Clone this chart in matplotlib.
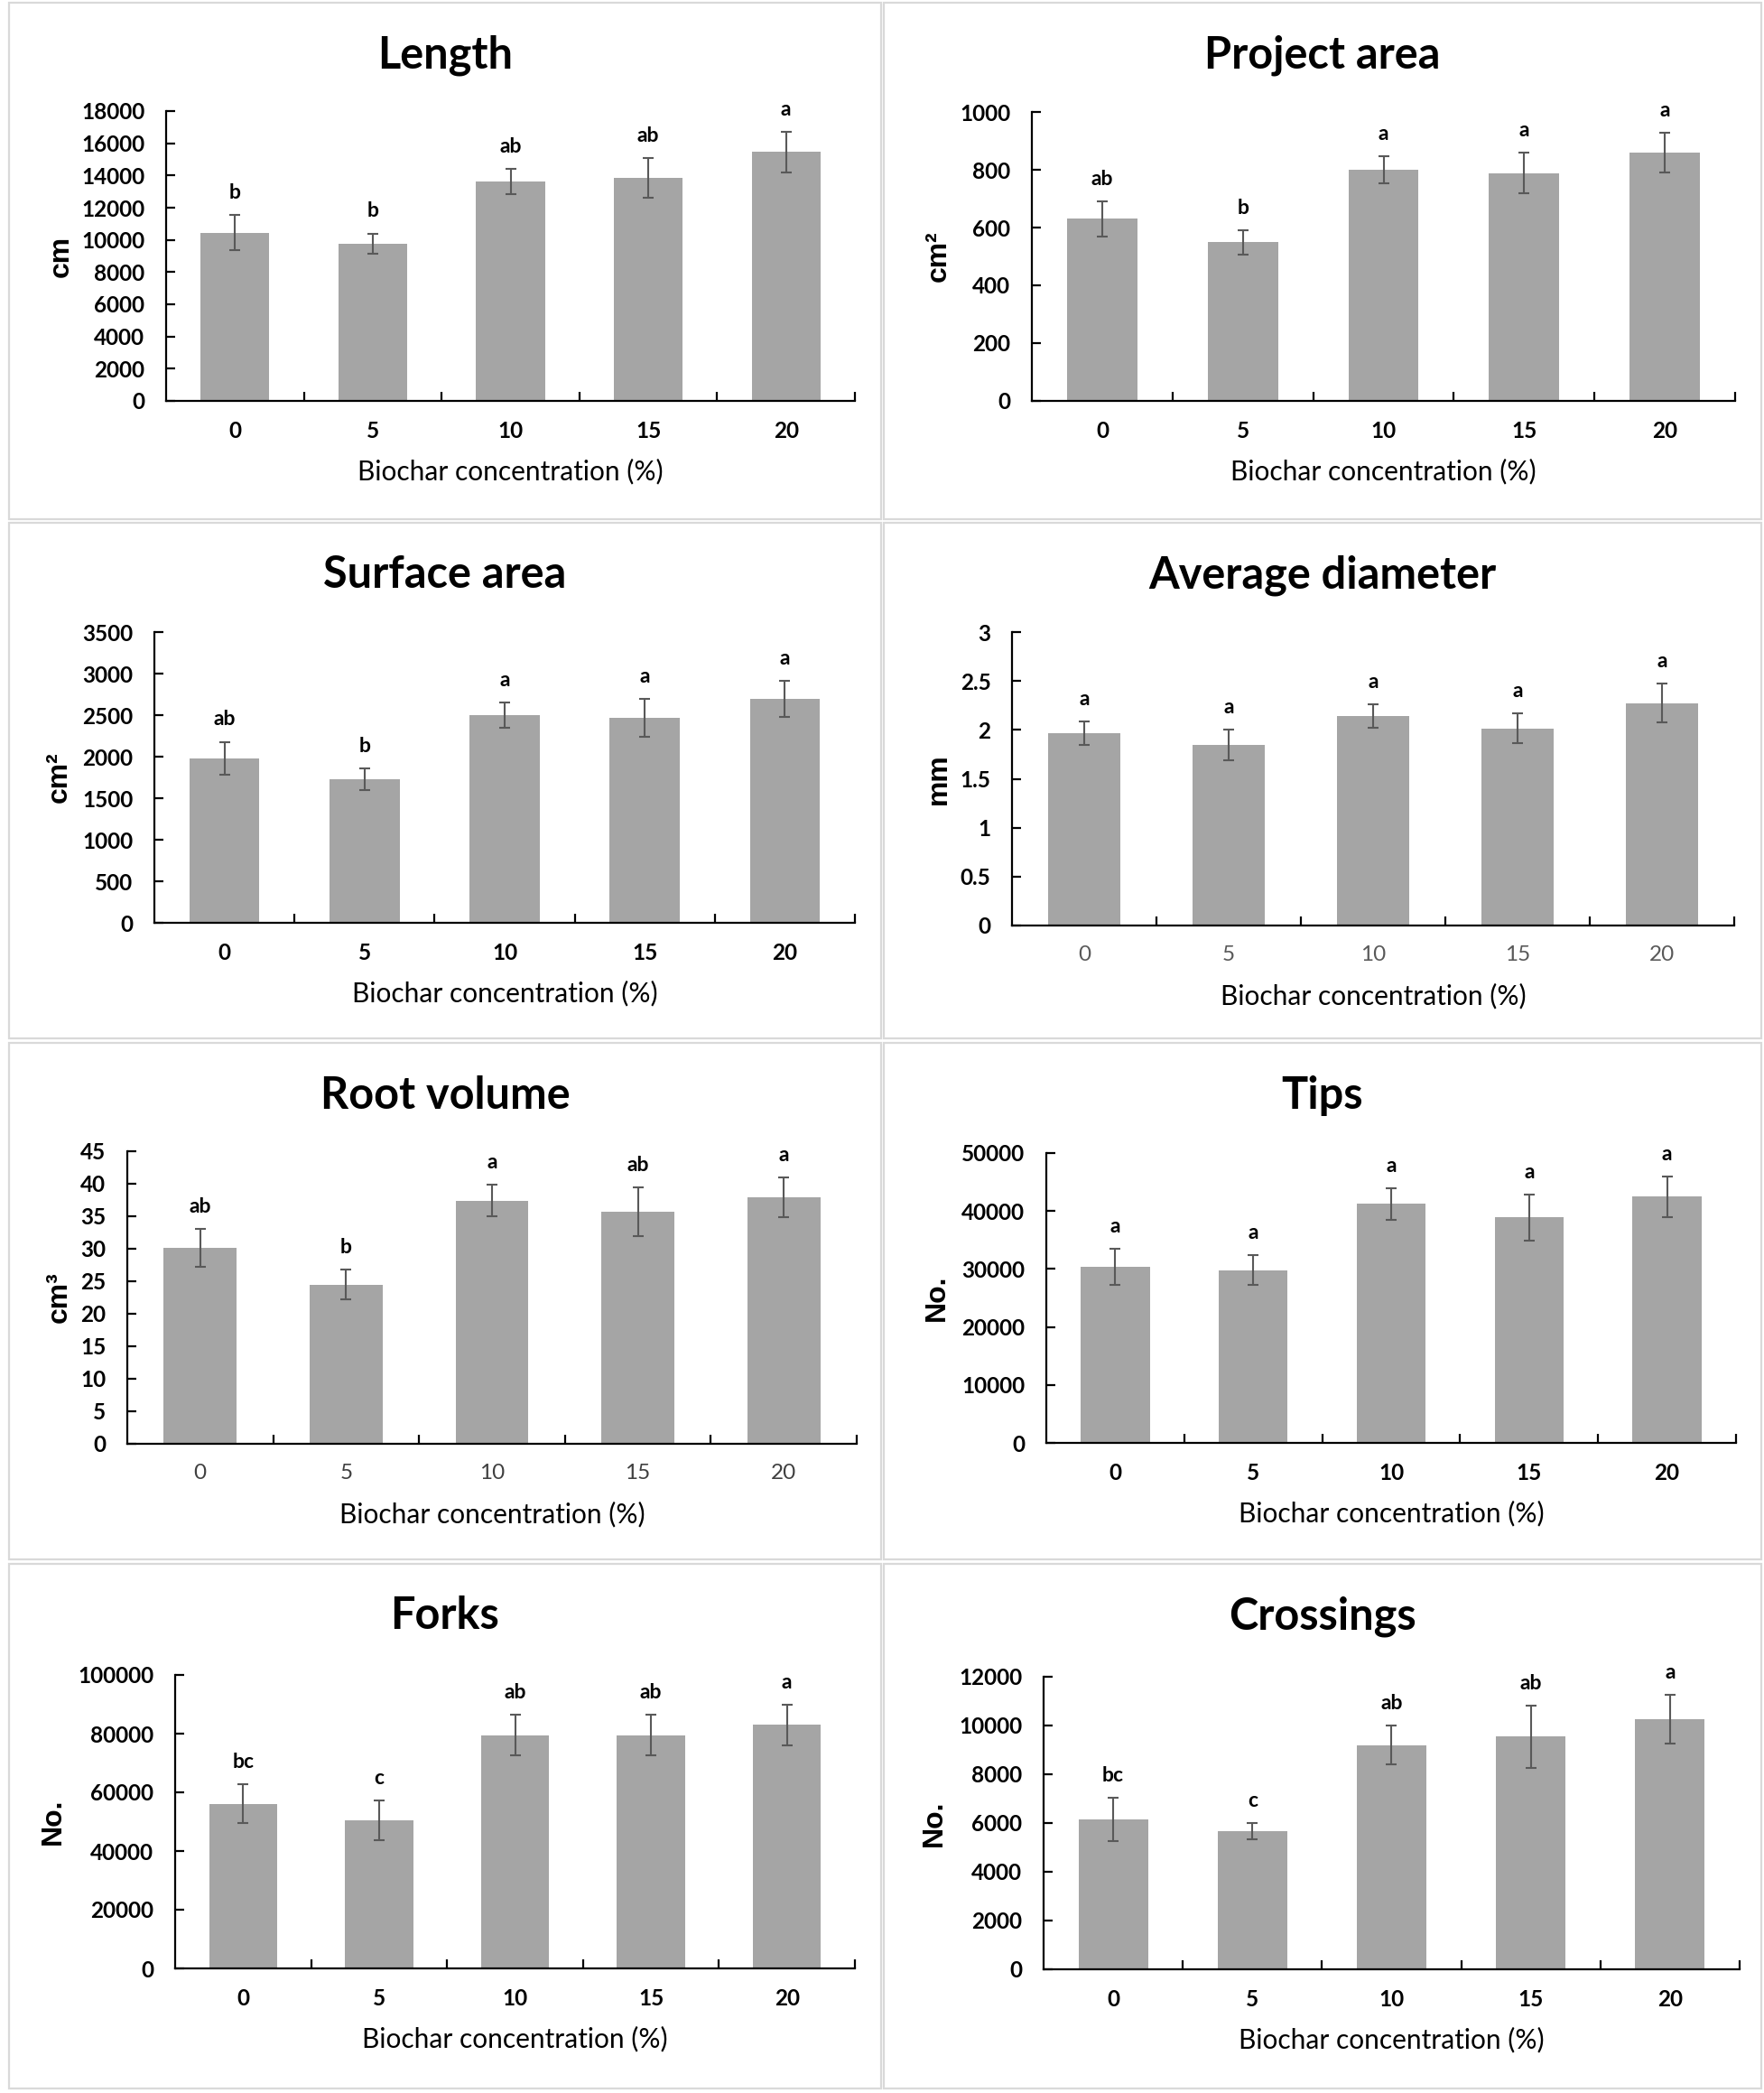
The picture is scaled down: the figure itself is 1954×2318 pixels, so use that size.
import numpy as np
import matplotlib.pyplot as plt
from matplotlib.patches import Rectangle

plt.rcParams['font.family'] = ['Lato', 'DejaVu Sans']

# biochar concentration (%)
conc = ['0', '5', '10', '15', '20']

length_mean = [10440, 9780, 13640, 13850, 15450]
length_err = [1090, 620, 780, 1245, 1265]
length_sig = ['b', 'b', 'ab', 'ab', 'a']

project_mean = [630, 549, 799, 788, 859]
project_err = [60, 42, 47, 70, 68]
project_sig = ['ab', 'b', 'a', 'a', 'a']

surface_mean = [1979, 1726, 2498, 2470, 2695]
surface_err = [200, 130, 150, 227, 213]
surface_sig = ['ab', 'b', 'a', 'a', 'a']

diameter_mean = [1.967, 1.847, 2.138, 2.015, 2.275]
diameter_err = [0.12, 0.155, 0.12, 0.15, 0.197]
diameter_sig = ['a', 'a', 'a', 'a', 'a']

volume_mean = [30.1, 24.5, 37.4, 35.7, 37.9]
volume_err = [2.9, 2.25, 2.45, 3.7, 3.1]
volume_sig = ['ab', 'b', 'a', 'ab', 'a']

tips_mean = [30400, 29800, 41200, 38900, 42500]
tips_err = [3150, 2600, 2700, 4000, 3500]
tips_sig = ['a', 'a', 'a', 'a', 'a']

forks_mean = [56100, 50500, 79500, 79500, 83000]
forks_err = [6600, 6850, 6900, 6900, 6950]
forks_sig = ['bc', 'c', 'ab', 'ab', 'a']

cross_mean = [6150, 5674, 9198, 9545, 10266]
cross_err = [890, 340, 800, 1275, 1000]
cross_sig = ['bc', 'c', 'ab', 'ab', 'a']

panels = [
    ('Length', 'cm', length_mean, length_err, length_sig, 18000, 2000),
    ('Project area', 'cm²', project_mean, project_err, project_sig, 1000, 200),
    ('Surface area', 'cm²', surface_mean, surface_err, surface_sig, 3500, 500),
    ('Average diameter', 'mm', diameter_mean, diameter_err, diameter_sig, 3, 0.5),
    ('Root volume', 'cm³', volume_mean, volume_err, volume_sig, 45, 5),
    ('Tips', 'No.', tips_mean, tips_err, tips_sig, 50000, 10000),
    ('Forks', 'No.', forks_mean, forks_err, forks_sig, 100000, 20000),
    ('Crossings', 'No.', cross_mean, cross_err, cross_sig, 12000, 2000),
]

# layout in pixels: panel frame (x0, y0, x1, y1), axes (left, right, top, bottom), ylabel x
frames = [(10, 3, 976, 575), (979, 3, 1951, 575),
          (10, 579, 976, 1150), (979, 579, 1951, 1150),
          (10, 1155, 976, 1727), (979, 1155, 1951, 1727),
          (10, 1732, 976, 2313), (979, 1732, 1951, 2313)]
boxes = [(184, 947, 123, 444), (1143, 1922, 124, 444),
         (171, 947, 700, 1022), (1121, 1921, 700, 1025),
         (141, 949, 1275, 1599), (1159, 1923, 1277, 1598),
         (194, 947, 1855, 2180), (1156, 1927, 1857, 2181)]
ylab_x = [68, 1040, 66, 1040, 66, 1038, 59, 1035]
xtick_style = {3: ('normal', '#595959'), 4: ('normal', '#404040')}

W, H = 1954, 2318
fig = plt.figure(figsize=(W / 100, H / 100), dpi=100)

for i, (title, unit, mean, err, sig, ymax, ystep) in enumerate(panels):
    x0, y0, x1, y1 = frames[i]
    fig.patches.append(Rectangle((x0 / W, 1 - y1 / H), (x1 - x0) / W, (y1 - y0) / H,
                                 transform=fig.transFigure, facecolor='white',
                                 edgecolor='#d9d9d9', linewidth=1.6, zorder=-5))
    fig.text((x0 + x1) / 2 / W, 1 - (y0 + 58) / H, title, ha='center', va='center',
             fontsize=35, fontweight='bold')

    l, r, t, b = boxes[i]
    ax = fig.add_axes([l / W, 1 - b / H, (r - l) / W, (b - t) / H])
    ax.patch.set_alpha(0)
    pos = np.arange(len(conc))
    ax.bar(pos, mean, width=0.5, color='#a5a5a5', zorder=2)
    ax.errorbar(pos, mean, yerr=err, fmt='none', ecolor='#595959', elinewidth=1.5,
                capsize=4.5, capthick=1.5, zorder=3)
    for p, m, e, s in zip(pos, mean, err, sig):
        ax.annotate(s, (p, m + e), xytext=(0, 13), textcoords='offset points',
                    ha='center', va='baseline', fontsize=16.5, fontweight='bold')

    ax.set_xlim(-0.5, len(conc) - 0.5)
    ax.set_ylim(0, ymax)
    ax.set_yticks(np.arange(0, ymax + ystep / 2, ystep))
    ax.yaxis.set_major_formatter(plt.FuncFormatter(lambda v, _: f'{v:g}'))
    ax.set_xticks(pos)
    ax.set_xticks(np.arange(0.5, len(conc), 1.0), minor=True)
    ax.set_xticklabels(conc)
    for s in ['top', 'right']:
        ax.spines[s].set_visible(False)
    for s in ['left', 'bottom']:
        ax.spines[s].set_linewidth(1.6)
    ax.tick_params(axis='y', direction='in', length=7, width=1.6, pad=17, labelsize=17.5)
    ax.tick_params(axis='x', which='major', length=0, pad=16, labelsize=17.5)
    ax.tick_params(axis='x', which='minor', direction='in', length=7, width=1.6)
    for lab in ax.get_yticklabels():
        lab.set_fontweight('bold')
    weight, color = xtick_style.get(i, ('bold', 'black'))
    for lab in ax.get_xticklabels():
        lab.set_fontweight(weight)
        lab.set_color(color)

    ax.set_xlabel('Biochar concentration (%)', fontsize=21.5)
    ax.xaxis.set_label_coords(0.5, -78 / (b - t))
    ax.xaxis.label.set_va('center')
    ax.set_ylabel(unit, fontsize=23, fontweight='bold', family=['Liberation Sans', 'DejaVu Sans'])
    ax.yaxis.set_label_coords((ylab_x[i] - l) / (r - l), 0.5)
    ax.yaxis.label.set_va('center')

plt.savefig('out.png', dpi=100)
